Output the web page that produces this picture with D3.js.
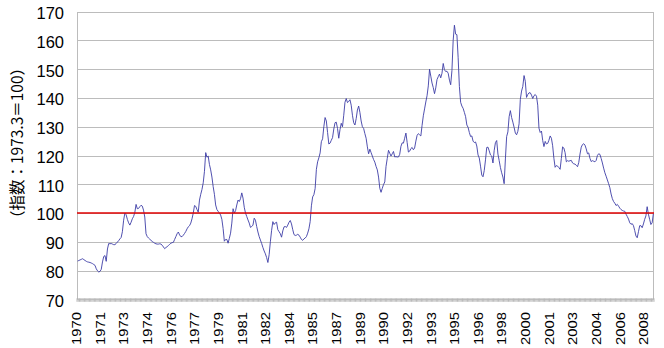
<!DOCTYPE html>
<html><head><meta charset="utf-8">
<script src="https://cdn.jsdelivr.net/npm/d3@7"></script>
<style>html,body{margin:0;padding:0;background:#fff;} svg{display:block;}</style>
</head><body><svg id="chart" width="664" height="348"></svg>
<script>
// Monthly index, Jan 1970 .. Aug 2008 (1973.3 = 100)
const startYear = 1970;
const values = [
 83.3, 83.5, 83.7, 83.9, 84.1, 83.8, 83.5, 83.2, 83.0, 82.9, 82.8, 82.6,
 82.4, 82.1, 81.8, 80.6, 79.9, 79.5, 79.7, 80.4, 83.0, 84.9, 85.2, 83.2,
 87.5, 89.4, 89.3, 89.4, 89.2, 89.0, 89.0, 89.4, 89.9, 90.4, 91.0, 91.5,
 93.5, 97.5, 100.0, 99.4, 97.8, 96.6, 95.8, 96.8, 98.0, 98.8, 100.2, 103.0,
 101.5, 101.6, 102.2, 102.7, 102.4, 101.0, 98.6, 92.8, 91.8, 91.3, 90.9, 90.5,
 90.1, 89.8, 89.5, 89.3, 89.2, 89.2, 89.3, 89.2, 88.8, 88.2, 87.6, 88.0,
 88.3, 88.7, 89.1, 89.5, 89.7, 89.8, 90.8, 91.8, 92.8, 93.4, 92.4, 91.8,
 91.8, 92.3, 92.9, 93.6, 94.5, 95.2, 95.6, 96.5, 98.0, 100.0, 102.6, 102.3,
 101.2, 100.3, 104.5, 106.5, 108.2, 110.5, 114.5, 121.0, 119.4, 119.8, 116.9, 115.0,
 112.5, 109.2, 106.5, 102.8, 101.2, 100.6, 100.0, 99.3, 97.8, 94.6, 90.2, 90.8,
 90.8, 89.5, 91.2, 93.0, 96.5, 101.5, 100.0, 100.8, 102.8, 104.5, 104.0, 105.0,
 107.0, 105.2, 102.0, 100.0, 98.8, 97.6, 96.5, 95.0, 95.3, 95.8, 98.2, 97.5,
 95.3, 93.4, 91.8, 90.6, 89.4, 88.0, 86.8, 85.8, 84.5, 82.8, 85.5, 90.0,
 94.0, 97.0, 96.0, 96.6, 96.8, 94.2, 93.5, 92.8, 91.6, 93.8, 95.2, 95.3,
 95.0, 95.8, 96.8, 97.4, 96.2, 94.2, 92.5, 92.2, 92.3, 92.6, 92.3, 91.6,
 90.8, 90.5, 91.0, 91.3, 91.8, 93.0, 94.5, 97.0, 102.5, 105.6, 106.4, 108.5,
 115.2, 117.8, 119.2, 120.9, 124.8, 125.8, 130.0, 133.2, 132.0, 128.0, 124.0, 124.3,
 125.3, 126.2, 129.2, 131.4, 131.6, 129.4, 126.0, 129.0, 131.2, 130.0, 134.0, 138.5,
 139.8, 138.4, 138.8, 139.4, 137.5, 134.0, 131.4, 130.6, 132.8, 135.8, 137.2, 135.0,
 132.0, 130.0, 129.4, 127.6, 126.0, 123.0, 120.6, 122.2, 121.0, 119.8, 118.6, 117.7,
 116.2, 115.0, 112.5, 108.6, 107.2, 108.6, 109.9, 110.8, 116.2, 119.0, 121.8, 120.8,
 119.8, 120.6, 121.4, 119.5, 119.6, 119.5, 119.5, 120.4, 123.2, 124.4, 124.3, 126.0,
 127.8, 124.5, 121.2, 121.5, 122.4, 122.8, 122.0, 122.6, 125.0, 127.0, 127.6, 127.2,
 126.8, 130.5, 133.8, 136.2, 138.6, 140.8, 144.2, 150.0, 147.6, 145.2, 143.6, 141.5,
 143.5, 146.4, 147.4, 148.3, 147.0, 148.6, 152.0, 149.8, 149.2, 149.3, 148.6, 146.2,
 144.6, 149.5, 160.0, 165.3, 162.2, 162.0, 154.0, 144.0, 138.5, 137.2, 136.4, 135.0,
 133.5, 130.6, 129.8, 128.0, 126.6, 126.8, 125.0, 124.5, 124.7, 123.3, 120.2, 119.1,
 116.3, 113.2, 112.6, 114.8, 118.5, 122.8, 122.9, 121.6, 120.2, 119.8, 117.4, 121.8,
 124.5, 125.2, 120.5, 118.2, 115.8, 114.0, 112.5, 110.2, 118.8, 126.6, 128.2, 133.5,
 135.6, 133.2, 131.6, 129.8, 127.8, 127.2, 128.4, 131.0, 139.5, 142.4, 144.0, 147.8,
 145.8, 140.2, 141.2, 141.8, 141.8, 141.0, 139.8, 140.8, 141.2, 140.6, 137.5, 129.5,
 128.0, 128.5, 125.2, 123.1, 124.9, 124.0, 124.2, 125.3, 126.8, 126.0, 123.4, 119.0,
 115.9, 116.5, 116.3, 115.8, 115.2, 119.0, 123.0, 122.6, 121.0, 117.8, 118.2, 118.0,
 118.2, 118.3, 117.4, 117.1, 117.0, 116.6, 116.1, 117.6, 120.5, 122.9, 123.8, 124.1,
 123.6, 122.3, 120.6, 120.9, 119.0, 117.9, 118.2, 118.0, 117.8, 118.3, 120.0, 120.6,
 120.4, 119.0, 117.4, 115.6, 114.0, 112.8, 111.5, 110.2, 108.8, 106.6, 105.0, 104.0,
 103.4, 102.6, 103.0, 102.4, 101.7, 101.2, 100.9, 100.7, 100.6, 99.6, 98.8, 97.9,
 96.6, 96.1, 96.3, 95.6, 93.9, 92.0, 91.4, 93.5, 95.6, 95.6, 94.9, 96.2,
 97.8, 99.0, 102.2, 99.6, 97.8, 96.0, 96.6, 99.8
];
const yTicks = [70, 80, 90, 100, 110, 120, 130, 140, 150, 160, 170];
const tickLabels = ["1970","1971","1973","1974","1976","1977","1979","1981","1982","1984","1985","1987","1989",
                    "1990","1992","1993","1995","1996","1998","2000","2001","2003","2004","2006","2008"];
const labelEvery = 19; // months between labels
const refValue = 100;
const yTitle = "（指数：1973.3＝100）";

const svg = d3.select("#chart");
const plot = {left: 77, right: 654, top: 11.7, bottom: 299.3};
const n = values.length;
const x = d3.scaleLinear().domain([-0.5, n - 0.5]).range([plot.left, plot.right]);
const y = d3.scaleLinear().domain([70, 170]).range([plot.bottom, plot.top]);

// gridlines
svg.append("g").selectAll("line").data(yTicks.filter(d => d > 70)).join("line")
  .attr("x1", plot.left).attr("x2", plot.right)
  .attr("y1", d => Math.round(y(d)) + 0.5).attr("y2", d => Math.round(y(d)) + 0.5)
  .attr("stroke", "#bcbcbc").attr("stroke-width", 1);
// plot borders left/right
svg.append("line").attr("x1", plot.left + 0.5).attr("x2", plot.left + 0.5)
  .attr("y1", Math.round(y(170)) + 0.5).attr("y2", plot.bottom)
  .attr("stroke", "#bcbcbc");
svg.append("line").attr("x1", plot.right - 0.5).attr("x2", plot.right - 0.5)
  .attr("y1", Math.round(y(170)) + 0.5).attr("y2", plot.bottom)
  .attr("stroke", "#bcbcbc");

// bottom axis: monthly ticks
const bounds = d3.range(n + 1);
svg.append("g").selectAll("line").data(bounds).join("line")
  .attr("x1", d => x(d - 0.5)).attr("x2", d => x(d - 0.5))
  .attr("y1", plot.bottom - 1).attr("y2", plot.bottom + 2.5)
  .attr("stroke", "#a8a8a8").attr("stroke-width", 0.8);
svg.append("line").attr("x1", plot.left).attr("x2", plot.right)
  .attr("y1", plot.bottom).attr("y2", plot.bottom)
  .attr("stroke", "#b8b8b8").attr("stroke-width", 1);

// y labels
svg.append("g").selectAll("text").data(yTicks).join("text")
  .attr("x", 64).attr("y", d => y(d) + 3)
  .attr("text-anchor", "end").attr("dominant-baseline", "middle")
  .attr("font-family", "Liberation Sans, Arial, sans-serif").attr("font-size", 16.5)
  .attr("fill", "#000").text(d => d);

// x labels
svg.append("g").selectAll("text").data(tickLabels).join("text")
  .attr("transform", (d, k) => `translate(${x(k * labelEvery) + 3.5},312) rotate(-90)`)
  .attr("text-anchor", "end")
  .attr("font-family", "Liberation Sans, Arial, sans-serif").attr("font-size", 12)
  .attr("textLength", 33).attr("lengthAdjust", "spacingAndGlyphs")
  .attr("fill", "#000").text(d => d);

// y title
svg.append("text")
  .attr("transform", `translate(23,143) rotate(-90)`)
  .attr("text-anchor", "middle")
  .attr("font-family", "Noto Sans CJK JP, sans-serif").attr("font-size", 15.5)
  .attr("fill", "#000").text(yTitle);

// data line
const line = d3.line().x((d, i) => x(i)).y(d => y(d));
svg.append("path").datum(values).attr("d", line)
  .attr("fill", "none").attr("stroke", "#3c3ca6").attr("stroke-width", 0.9)
  .attr("stroke-linejoin", "round");

// reference line at 100
svg.append("line").attr("x1", plot.left).attr("x2", plot.right)
  .attr("y1", y(refValue)).attr("y2", y(refValue))
  .attr("stroke", "#e00000").attr("stroke-width", 1.3);
</script></body></html>
